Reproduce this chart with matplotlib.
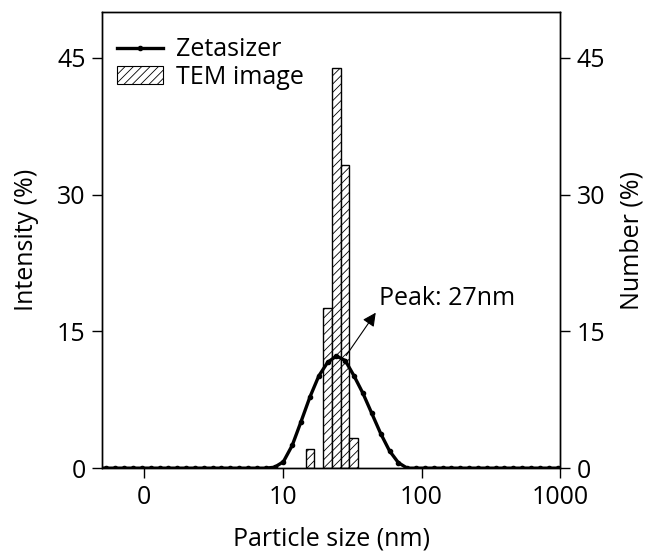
import matplotlib
matplotlib.use("Agg")
import matplotlib.pyplot as plt
from matplotlib.lines import Line2D
from matplotlib.patches import Patch
from matplotlib.ticker import NullLocator

plt.rcParams['font.family'] = ['Open Sans', 'DejaVu Sans']
plt.rcParams['hatch.linewidth'] = 0.6

# Zetasizer size classes (nm) and intensity (%)
zeta_size = [0.4632, 0.5365, 0.6213, 0.7195, 0.8332, 0.9649, 1.117, 1.294, 1.499,
             1.736, 2.010, 2.328, 2.696, 3.122, 3.615, 4.187, 4.849, 5.615, 6.503,
             7.531, 8.721, 10.10, 11.70, 13.54, 15.69, 18.17, 21.04, 24.36, 28.21,
             32.67, 37.84, 43.82, 50.75, 58.77, 68.06, 78.82, 91.28, 105.7, 122.4,
             141.8, 164.2, 190.1, 220.2, 255.0, 295.3, 342.0, 396.1, 458.7, 531.2,
             615.1, 712.4, 825.0, 955.4, 1106.0]
zeta_int = [0, 0, 0, 0, 0, 0, 0, 0, 0,
            0, 0, 0, 0, 0, 0, 0, 0, 0, 0,
            0, 0.1, 0.7, 2.5, 5.1, 7.8, 10.1, 11.6, 12.3, 11.8,
            10.1, 8.2, 6.0, 3.8, 1.9, 0.6, 0, 0, 0, 0,
            0, 0, 0, 0, 0, 0, 0, 0, 0, 0,
            0, 0, 0, 0, 0]

# TEM histogram: bin edges (nm) and number (%)
tem_edges = [14.6, 16.9, 19.5, 22.6, 26.1, 30.2, 35.0]
tem_num = [2.1, 0, 17.6, 43.9, 33.2, 3.3]

fig = plt.figure(figsize=(6.47, 5.56), dpi=100)
ax = fig.add_axes([0.158, 0.158, 0.708, 0.82])
ax2 = ax.twinx()

ax.set_xscale('log')
ax.set_xlim(0.5, 1000)
ax.set_ylim(0, 50)
ax2.set_ylim(0, 50)

lefts = tem_edges[:-1]
widths = [tem_edges[i + 1] - tem_edges[i] for i in range(len(tem_num))]
for l, w, h in zip(lefts, widths, tem_num):
    if h > 0:
        ax2.bar(l, h, width=w, align='edge', facecolor='white', edgecolor='black',
                hatch='////', linewidth=1.0, zorder=2)

ax.plot(zeta_size, zeta_int, color='black', lw=2.4, marker='o', ms=3, zorder=5)
ax.set_zorder(ax2.get_zorder() + 1)
ax.patch.set_visible(False)

ax.set_xticks([1, 10, 100, 1000])
ax.set_xticklabels(['0', '10', '100', '1000'])
ax.xaxis.set_minor_locator(NullLocator())
ax.set_yticks([0, 15, 30, 45])
ax2.set_yticks([0, 15, 30, 45])

for a in (ax, ax2):
    a.tick_params(direction='out', length=7, width=1.0, labelsize=18, pad=5)
    for s in a.spines.values():
        s.set_linewidth(1.0)

ax.set_xlabel('Particle size (nm)', fontsize=18, labelpad=12)
ax.set_ylabel('Intensity (%)', fontsize=18, labelpad=13)
ax2.set_ylabel('Number (%)', fontsize=18, labelpad=10)

ax.annotate('', xy=(48.0, 17.3), xytext=(27.9, 12.1),
            arrowprops=dict(arrowstyle='-|>', color='black', lw=0.8,
                            mutation_scale=20), zorder=6)
ax.text(49.0, 18.6, 'Peak: 27nm', fontsize=18, va='center', ha='left', zorder=6)

handles = [Line2D([0], [0], color='black', lw=2.4, marker='o', ms=3),
           Patch(facecolor='white', edgecolor='black', hatch='////', linewidth=0.8)]
ax.legend(handles, ['Zetasizer', 'TEM image'], loc='upper left', frameon=False,
          fontsize=18, handlelength=1.85, handletextpad=0.5, labelspacing=0.1,
          borderaxespad=0.3, borderpad=0.3, bbox_to_anchor=(0.0, 0.978))

fig.savefig('out.png', dpi=100)
